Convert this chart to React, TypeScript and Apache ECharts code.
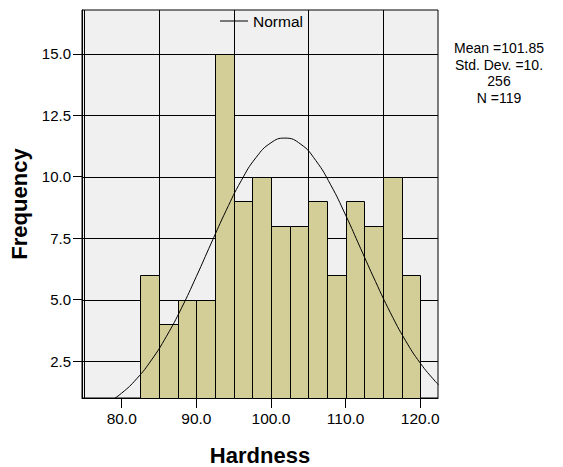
import { useEffect, useRef } from "react";
import * as echarts from "echarts";

// Histogram bins (lower edges) and counts
const binLower = [82.5, 85, 87.5, 90, 92.5, 95, 97.5, 100, 102.5, 105, 107.5, 110, 112.5, 115, 117.5];
const binWidth = 2.5;
const frequency = [6, 4, 5, 5, 15, 9, 10, 8, 8, 9, 6, 9, 8, 10, 6];

// Fitted normal curve
const normalX = [78, 80, 82, 84, 86, 88, 90, 92, 94, 96, 98, 100, 101.85, 104, 106, 108, 110, 112, 114, 116, 118, 120, 122, 122.46];
const normalY = [0.77, 1.2, 1.78, 2.55, 3.51, 4.65, 5.94, 7.3, 8.63, 9.83, 10.78, 11.38, 11.57, 11.32, 10.66, 9.67, 8.44, 7.09, 5.74, 4.47, 3.35, 2.42, 1.68, 1.54];

// Axis ticks / grid lines
const xTicks = [80, 90, 100, 110, 120];
const yTicks = [2.5, 5, 7.5, 10, 12.5, 15];
const xGridLines = [75, 85, 95, 105, 115];

const statsLines = ["Mean =101.85", "Std. Dev. =10.", "256", "N =119"];

const X_MIN = 74.68;
const X_MAX = 122.38;
const Y_MIN = 1.0;
const Y_MAX = 16.78;

const FONT = '"Liberation Sans", Arial, sans-serif';
const crisp = (v: number) => Math.round(v) + 0.5;

export default function App() {
  const ref = useRef<HTMLDivElement>(null);

  useEffect(() => {
    if (!ref.current) return;
    const chart = echarts.init(ref.current, undefined, { renderer: "svg" });

    const option: any = {
      animation: false,
      backgroundColor: "#ffffff",
      textStyle: { fontFamily: FONT },
      grid: {
        left: 82,
        top: 10,
        right: 125,
        bottom: 69,
        containLabel: false,
        outerBoundsMode: "none",
        show: true,
        backgroundColor: "#f0f0f0",
        borderColor: "#000",
        borderWidth: 1,
      },
      legend: {
        data: ["Normal"],
        left: 215,
        top: 8,
        icon: "rect",
        itemWidth: 28,
        itemHeight: 1,
        itemGap: 10,
        itemStyle: { color: "#000" },
        textStyle: { fontSize: 15.5, color: "#000", fontFamily: FONT },
        selectedMode: false,
      },
      xAxis: {
        type: "value",
        min: X_MIN,
        max: X_MAX,
        name: "Hardness",
        nameLocation: "middle",
        nameGap: 46,
        nameTextStyle: { fontSize: 22, fontWeight: "bold", color: "#000", fontFamily: FONT },
        axisLine: { show: true, lineStyle: { color: "#000", width: 1 } },
        axisTick: { show: true, customValues: xTicks, length: 10, lineStyle: { color: "#000", width: 1 } },
        axisLabel: {
          customValues: xTicks,
          formatter: (v: number) => v.toFixed(1),
          fontSize: 15.5,
          color: "#000",
          margin: 12,
          fontFamily: FONT,
        },
        splitLine: { show: false },
      },
      yAxis: {
        type: "value",
        min: Y_MIN,
        max: Y_MAX,
        name: "Frequency",
        nameLocation: "middle",
        nameGap: 51,
        nameTextStyle: { fontSize: 22, fontWeight: "bold", color: "#000", fontFamily: FONT },
        axisLine: { show: true, lineStyle: { color: "#000", width: 1 } },
        axisTick: { show: true, customValues: yTicks, length: 9, lineStyle: { color: "#000", width: 1 } },
        axisLabel: {
          customValues: yTicks,
          formatter: (v: number) => v.toFixed(1),
          fontSize: 15,
          color: "#000",
          margin: 11,
          fontFamily: FONT,
        },
        splitLine: { show: false },
      },
      series: [
        {
          type: "custom",
          name: "vgrid",
          silent: true,
          z: 1,
          data: xGridLines.map((v) => [v, Y_MIN]),
          encode: { x: 0, y: 1 },
          renderItem: (_p: any, api: any) => {
            const v = api.value(0);
            const a = api.coord([v, Y_MAX]);
            const b = api.coord([v, Y_MIN]);
            const x = crisp(a[0]);
            return {
              type: "line",
              shape: { x1: x, y1: a[1], x2: x, y2: b[1] },
              style: { stroke: "#000", lineWidth: 1 },
            };
          },
        },
        {
          type: "custom",
          name: "hgrid",
          silent: true,
          z: 1,
          data: yTicks.map((v) => [X_MIN, v]),
          encode: { x: 0, y: 1 },
          renderItem: (_p: any, api: any) => {
            const v = api.value(1);
            const a = api.coord([X_MIN, v]);
            const b = api.coord([X_MAX, v]);
            const y = crisp(a[1]);
            return {
              type: "line",
              shape: { x1: a[0], y1: y, x2: b[0], y2: y },
              style: { stroke: "#000", lineWidth: 1 },
            };
          },
        },
        {
          type: "custom",
          name: "Hardness",
          z: 2,
          data: binLower.map((lo, i) => [lo, lo + binWidth, frequency[i]]),
          encode: { x: [0, 1], y: 2 },
          renderItem: (_p: any, api: any) => {
            const p0 = api.coord([api.value(0), api.value(2)]);
            const p1 = api.coord([api.value(1), Y_MIN]);
            const x0 = crisp(p0[0]);
            const x1 = crisp(p1[0]);
            const y0 = crisp(p0[1]);
            const y1 = crisp(p1[1]);
            return {
              type: "rect",
              shape: { x: x0, y: y0, width: x1 - x0, height: y1 - y0 },
              style: { fill: "#d3ce97", stroke: "#000", lineWidth: 1 },
            };
          },
        },
        {
          type: "line",
          name: "Normal",
          z: 3,
          data: normalX.map((x, i) => [x, normalY[i]]),
          smooth: true,
          showSymbol: false,
          symbol: "none",
          clip: true,
          lineStyle: { color: "#000", width: 1 },
          itemStyle: { color: "#000" },
        },
      ],
      graphic: [
        {
          type: "text",
          x: 499,
          y: 40,
          style: {
            text: statsLines.join("\n"),
            font: `14px ${FONT}`,
            fill: "#000",
            textAlign: "center",
            textVerticalAlign: "top",
            lineHeight: 16.5,
          },
        },
      ],
    };

    chart.setOption(option);
    return () => chart.dispose();
  }, []);

  return <div ref={ref} style={{ width: 563, height: 467, position: "absolute", left: 0, top: 0 }} />;
}
